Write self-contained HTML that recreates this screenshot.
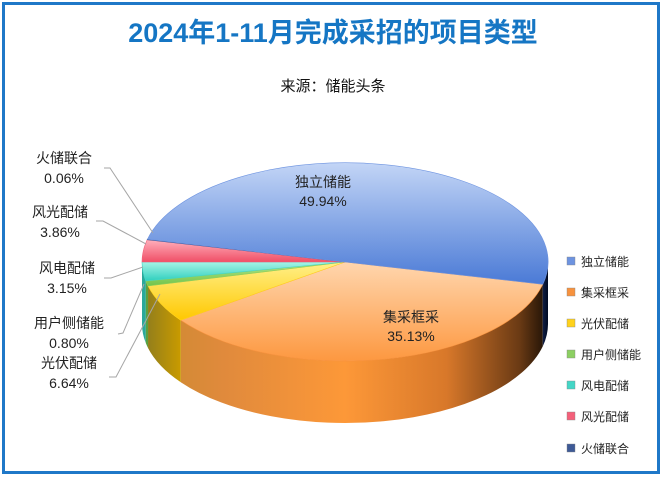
<!DOCTYPE html>
<html><head><meta charset="utf-8"><style>
body{margin:0;background:#fff;width:667px;height:479px;overflow:hidden;font-family:"Liberation Sans","Noto Sans CJK SC",sans-serif}
</style></head><body>
<svg id="s" width="667" height="479" xmlns="http://www.w3.org/2000/svg" font-family="Liberation Sans, Noto Sans CJK SC, sans-serif">
<defs>
<linearGradient id="gb" x1="0" y1="0" x2="0" y2="1"><stop offset="0" stop-color="#c3d5f6"/><stop offset="1" stop-color="#4a7ad6"/></linearGradient>
<linearGradient id="go" x1="0" y1="0" x2="0" y2="1"><stop offset="0" stop-color="#ffd6ae"/><stop offset="1" stop-color="#fd9840"/></linearGradient>
<linearGradient id="gy" x1="0" y1="0" x2="0" y2="1"><stop offset="0" stop-color="#fff08a"/><stop offset="1" stop-color="#ffc800"/></linearGradient>
<linearGradient id="gg" x1="0" y1="0" x2="0" y2="1"><stop offset="0" stop-color="#b5e58a"/><stop offset="1" stop-color="#72c44a"/></linearGradient>
<linearGradient id="gc" x1="0" y1="0" x2="0" y2="1"><stop offset="0" stop-color="#a6f4e6"/><stop offset="1" stop-color="#2fcfbe"/></linearGradient>
<linearGradient id="gr" x1="0" y1="0" x2="0" y2="1"><stop offset="0" stop-color="#ffb0bc"/><stop offset="1" stop-color="#f04f66"/></linearGradient>
<linearGradient id="gd" x1="0" y1="0" x2="0" y2="1"><stop offset="0" stop-color="#6d86c0"/><stop offset="1" stop-color="#2f4f8c"/></linearGradient>
<linearGradient id="side" gradientUnits="userSpaceOnUse" x1="142" y1="0" x2="548" y2="0">
<stop offset="0" stop-color="#c98a30"/><stop offset="0.2" stop-color="#e08a3c"/><stop offset="0.5" stop-color="#fd9838"/><stop offset="0.75" stop-color="#d8782a"/><stop offset="0.93" stop-color="#6a3a14"/><stop offset="1" stop-color="#1a0f05"/></linearGradient>
<linearGradient id="sidey" gradientUnits="userSpaceOnUse" x1="142" y1="0" x2="180" y2="0"><stop offset="0" stop-color="#8a7a20"/><stop offset="1" stop-color="#c89a00"/></linearGradient>
<linearGradient id="sideb" gradientUnits="userSpaceOnUse" x1="540" y1="0" x2="548" y2="0"><stop offset="0" stop-color="#1a2a5a"/><stop offset="1" stop-color="#000a20"/></linearGradient>
</defs>
<rect x="3.5" y="3.5" width="655" height="469" fill="#fff" stroke="#1f78c8" stroke-width="3"/>
<text x="333" y="42" text-anchor="middle" font-size="27" font-weight="bold" fill="#1576c4">2024年1-11月完成采招的项目类型</text>
<text x="333" y="91" text-anchor="middle" font-size="15" fill="#111">来源：储能头条</text>
<g id="pie"></g>
<g stroke="#a6a6a6" fill="none" stroke-width="1">
<polyline points="104,168 110,168 153,233"/>
<polyline points="96,221 103,221 146,244"/>
<polyline points="104,278 111,278 143,267"/>
<polyline points="118,334 123,333 144,284"/>
<polyline points="109,377 116,377 160,294"/>
</g>
<g font-size="14" fill="#222" text-anchor="middle">
<text x="64" y="163">火储联合</text><text x="64" y="183">0.06%</text>
<text x="60" y="217">风光配储</text><text x="60" y="237">3.86%</text>
<text x="67" y="273">风电配储</text><text x="67" y="293">3.15%</text>
<text x="69" y="328">用户侧储能</text><text x="69" y="348">0.80%</text>
<text x="69" y="368">光伏配储</text><text x="69" y="388">6.64%</text>
<text x="323" y="187">独立储能</text><text x="323" y="206">49.94%</text>
<text x="411" y="322">集采框采</text><text x="411" y="341">35.13%</text>
</g>
<g font-size="12" fill="#222" id="leg"></g>
</svg>
<script>
var cx=345,cy=262,rx=203,ry=99,d=62;
var data=[["独立储能",49.94,"gb","#6d93e0"],["集采框采",35.13,"go","#f7923e"],["光伏配储",6.64,"gy","#ffd21c"],["用户侧储能",0.80,"gg","#8ccf62"],["风电配储",3.15,"gc","#44d6c6"],["风光配储",3.86,"gr","#f4607a"],["火储联合",0.06,"gd","#3e5a96"]];
function P(t,dy){t=t*Math.PI/180;return (cx+rx*Math.cos(t)).toFixed(2)+","+(cy+dy+ry*Math.sin(t)).toFixed(2);}
var pie=document.getElementById("pie");
var order=[1,2,3,4,5,6,0],spans={1:131,2:22,3:3,4:11,5:13,6:0.3},a=13,ang={};
order.forEach(function(i){var s=i==0?(373-a):spans[i];ang[i]=[a,a+s];a+=s;});
var sides="";
order.forEach(function(i){var s=Math.max(ang[i][0],0),e=Math.min(ang[i][1],180);
 var fill=i==1?"url(#side)":i==2?"url(#sidey)":i==0?"url(#sideb)":"#2aa89a";
 if(i==3)fill="#5aa040";
 if(e>s){sides+='<path d="M'+P(s,0)+' A'+rx+','+ry+' 0 0 1 '+P(e,0)+' L'+P(e,d)+' A'+rx+','+ry+' 0 0 0 '+P(s,d)+' Z" fill="'+fill+'"/>';}
});
sides+='<path d="M'+P(0,0)+' A'+rx+','+ry+' 0 0 1 '+P(13,0)+' L'+P(13,d)+' A'+rx+','+ry+' 0 0 0 '+P(0,d)+' Z" fill="url(#sideb)"/>';
var tops="";
order.forEach(function(i){var s=ang[i][0],e=ang[i][1],lg=(e-s)>180?1:0;
 tops+='<path d="M'+cx+','+cy+' L'+P(s,0)+' A'+rx+','+ry+' 0 '+lg+' 1 '+P(e,0)+' Z" fill="url(#'+data[i][2]+')" stroke="'+data[i][3]+'" stroke-width="0.6"/>';});
pie.innerHTML=sides+tops;
var lg="";
data.forEach(function(r,k){var yy=262+k*31;if(k==6)yy=449;
 lg+='<rect x="567" y="'+(yy-5)+'" width="8" height="8" fill="'+r[3]+'" stroke="#888" stroke-width="0.4"/><text x="581" y="'+(yy+4)+'">'+r[0]+'</text>';});
document.getElementById("leg").innerHTML=lg;
</script>
</body></html>
